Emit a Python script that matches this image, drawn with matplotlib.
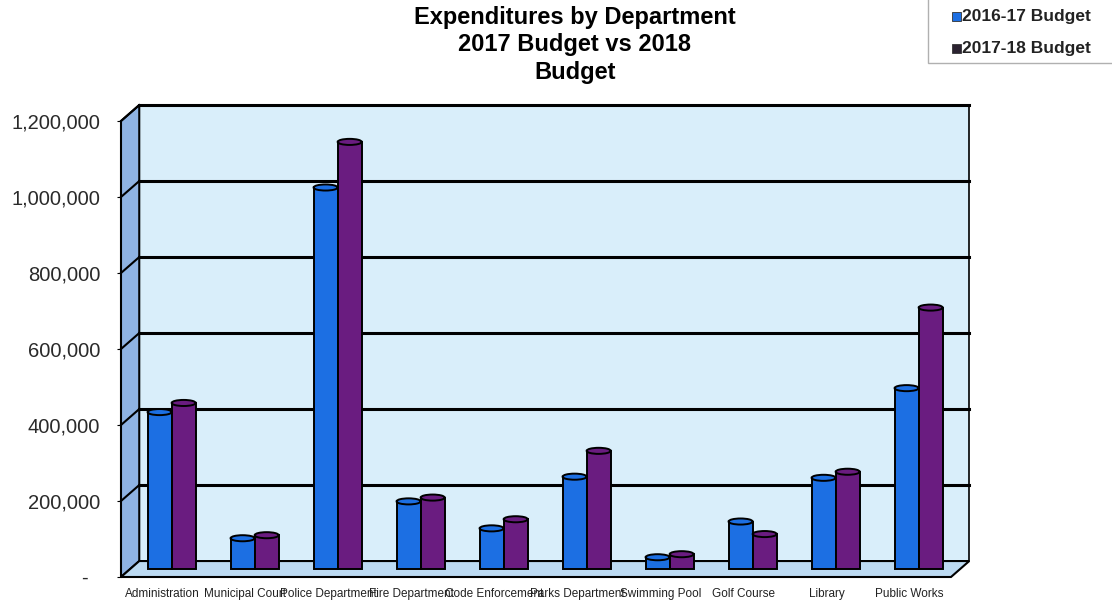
import matplotlib
matplotlib.use('Agg')
import matplotlib.pyplot as plt
from matplotlib.patches import Polygon, Rectangle, Ellipse

plt.rcParams['font.family'] = ['Liberation Sans', 'DejaVu Sans']

# Department budgets
departments = ['Administration', 'Municipal Court', 'Police Department',
               'Fire Department', 'Code Enforcement', 'Parks Department',
               'Swimming Pool', 'Golf Course', 'Library', 'Public Works']
budget_2016_17 = [413000, 81000, 1004000, 178000, 107000, 243000,
                  31000, 125000, 240000, 476000]
budget_2017_18 = [437000, 89000, 1124000, 188000, 131000, 311000,
                  39000, 92000, 256000, 688000]
y_ticks = [0, 200000, 400000, 600000, 800000, 1000000, 1200000]
y_labels = ['-  ', '200,000', '400,000', '600,000', '800,000',
            '1,000,000', '1,200,000']

blue = '#1c6fe3'
purple = '#6a1c80'
wall = '#d9eefa'
side = '#8fb3e3'
floor = '#bcdaf2'

fig = plt.figure(figsize=(11.12, 6.05), dpi=100)
ax = fig.add_axes([121 / 1112, 1 - 577 / 605, 830 / 1112, 456 / 605])
ax.set_xlim(-0.5, 9.5)
ax.set_ylim(0, 1200000)
for s in ax.spines.values():
    s.set_visible(False)
ax.patch.set_visible(False)

# depth offset of the back wall (data units)
dx = 0.22
dy = 42000
x0, x1 = -0.5, 9.5
ytop = 1200000

ax.add_patch(Polygon([(x0 + dx, dy), (x1 + dx, dy), (x1 + dx, ytop + dy),
                      (x0 + dx, ytop + dy)], closed=True, facecolor=wall,
                     edgecolor='black', lw=1.2, zorder=0, clip_on=False))
ax.add_patch(Polygon([(x0, 0), (x0 + dx, dy), (x0 + dx, ytop + dy), (x0, ytop)],
                     closed=True, facecolor=side, edgecolor='black', lw=1.5,
                     zorder=1, clip_on=False))
for v in y_ticks[1:]:
    ax.plot([x0 + dx, x1 + dx], [v + dy, v + dy], color='black', lw=2.2,
            zorder=1, clip_on=False)
    ax.plot([x0, x0 + dx], [v, v + dy], color='black', lw=1.5,
            zorder=2, clip_on=False)
ax.add_patch(Polygon([(x0, 0), (x1, 0), (x1 + dx, dy), (x0 + dx, dy)],
                     closed=True, facecolor=floor, edgecolor='black', lw=1.5,
                     zorder=2, clip_on=False))

# cylinder-style columns
w = 0.29
cap_h = 16000
base = dy / 2
for i, (a, b) in enumerate(zip(budget_2016_17, budget_2017_18)):
    for xc, val, col in [(i - w / 2 + dx / 2, a, blue),
                         (i + w / 2 + dx / 2, b, purple)]:
        ax.bar(xc, val, width=w, bottom=base, color=col, edgecolor='black',
               linewidth=1.4, zorder=3)
        ax.add_patch(Ellipse((xc, val + base), w, cap_h, facecolor=col,
                             edgecolor='black', lw=1.4, zorder=4))

ax.set_xticks(range(len(departments)))
ax.set_xticklabels(departments, fontsize=8.5, color='#222222')
ax.tick_params(axis='x', length=0, pad=8)
ax.set_yticks(y_ticks)
ax.set_yticklabels(y_labels, fontsize=14.5, color='#2a2a2a')
ax.tick_params(axis='y', length=3, pad=12)

fig.text(575 / 1112, 1 - 6 / 605,
         'Expenditures by Department\n2017 Budget vs 2018\nBudget',
         ha='center', va='top', fontsize=17, fontweight='bold',
         linespacing=1.25)

# legend box
fig.patches.append(Rectangle((928 / 1112, 1 - 63 / 605), 200 / 1112, 70 / 605,
                             transform=fig.transFigure, facecolor='white',
                             edgecolor='#b0b0b0', lw=1))
for yy, col, lab in [(16, blue, '2016-17 Budget'), (48, '#2b2230', '2017-18 Budget')]:
    fig.patches.append(Rectangle((952 / 1112, 1 - (yy + 5) / 605), 9 / 1112, 9 / 605,
                                 transform=fig.transFigure, facecolor=col,
                                 edgecolor='#333333', lw=0.6))
    fig.text(962 / 1112, 1 - yy / 605, lab, ha='left', va='center',
             fontsize=12.5, fontweight='bold', color='#222222')

fig.savefig('out.png', dpi=100)
